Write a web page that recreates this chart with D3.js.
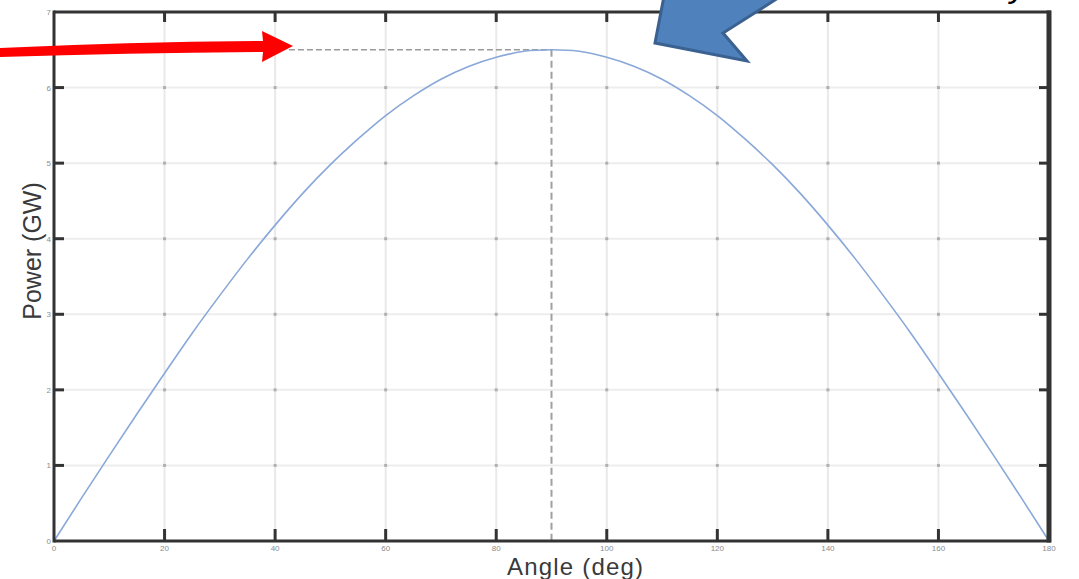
<!DOCTYPE html>
<html>
<head>
<meta charset="utf-8">
<script src="https://cdn.jsdelivr.net/npm/d3@7"></script>
<style>
  html, body { margin: 0; padding: 0; background: #fff; overflow: hidden; }
  svg { display: block; }
</style>
</head>
<body>
<div id="chart"></div>
<script>
// power-angle curve, values
const angleDeg = [0, 5, 10, 15, 20, 25, 30, 35, 40, 45, 50, 55, 60, 65, 70, 75, 80, 85, 90,
                  95, 100, 105, 110, 115, 120, 125, 130, 135, 140, 145, 150, 155, 160, 165, 170, 175, 180];
const powerGW = [0, 0.57, 1.13, 1.68, 2.22, 2.75, 3.25, 3.73, 4.18, 4.60, 4.98, 5.32, 5.63, 5.89, 6.11, 6.28, 6.40, 6.48, 6.50,
                 6.48, 6.40, 6.28, 6.11, 5.89, 5.63, 5.32, 4.98, 4.60, 4.18, 3.73, 3.25, 2.75, 2.22, 1.68, 1.13, 0.57, 0];
const xTicks = [0, 20, 40, 60, 80, 100, 120, 140, 160, 180];
const yTicks = [0, 1, 2, 3, 4, 5, 6, 7];
const peakAngle = 90;
const peakPower = 6.5;
const dashStartAngle = 42.5;

const W = 1079, H = 579;
const plot = {left: 54, right: 1049, top: 12, bottom: 541};

const svg = d3.select('#chart').append('svg')
    .attr('width', W)
    .attr('height', H);

const x = d3.scaleLinear().domain([0, 180]).range([plot.left, plot.right]);
const y = d3.scaleLinear().domain([0, 7]).range([plot.bottom, plot.top]);

// grid
svg.append('g').selectAll('line')
    .data(xTicks.slice(1, -1))
    .join('line')
    .attr('x1', d => x(d)).attr('x2', d => x(d))
    .attr('y1', plot.top).attr('y2', plot.bottom)
    .attr('stroke', '#e9e9e9')
    .attr('stroke-width', 2);

svg.append('g').selectAll('line')
    .data(yTicks.slice(1, -1))
    .join('line')
    .attr('x1', plot.left).attr('x2', plot.right)
    .attr('y1', d => y(d)).attr('y2', d => y(d))
    .attr('stroke', '#ededed')
    .attr('stroke-width', 2);

// little dots where the grid crosses
const crossings = [];
xTicks.slice(1, -1).forEach(a => yTicks.slice(1, -1).forEach(p => crossings.push([a, p])));
svg.append('g').selectAll('rect')
    .data(crossings)
    .join('rect')
    .attr('x', d => x(d[0]) - 1.5)
    .attr('y', d => y(d[1]) - 1.5)
    .attr('width', 3).attr('height', 3)
    .attr('fill', '#b0b0b0');

// dashed guide lines to the peak
svg.append('line')
    .attr('x1', x(dashStartAngle)).attr('x2', x(peakAngle))
    .attr('y1', y(peakPower)).attr('y2', y(peakPower))
    .attr('stroke', '#9a9a9a')
    .attr('stroke-width', 1.5)
    .attr('stroke-dasharray', '6,3');

svg.append('line')
    .attr('x1', x(peakAngle)).attr('x2', x(peakAngle))
    .attr('y1', y(peakPower)).attr('y2', plot.bottom)
    .attr('stroke', '#a0a0a0')
    .attr('stroke-width', 2)
    .attr('stroke-dasharray', '7,4');

// the curve
const line = d3.line()
    .x((d, i) => x(angleDeg[i]))
    .y(d => y(d))
    .curve(d3.curveNatural);

svg.append('path')
    .datum(powerGW)
    .attr('d', line)
    .attr('fill', 'none')
    .attr('stroke', '#8aa8d8')
    .attr('stroke-width', 1.6);

// frame + inward ticks
const frame = svg.append('g').attr('stroke', '#333');
frame.append('line').attr('x1', plot.left).attr('x2', plot.right + 2).attr('y1', plot.top).attr('y2', plot.top).attr('stroke-width', 3);
frame.append('line').attr('x1', plot.left).attr('x2', plot.right + 2).attr('y1', plot.bottom).attr('y2', plot.bottom).attr('stroke-width', 3);
frame.append('line').attr('x1', plot.left).attr('x2', plot.left).attr('y1', plot.top - 1.5).attr('y2', plot.bottom + 1.5).attr('stroke-width', 3);
frame.append('line').attr('x1', plot.right).attr('x2', plot.right).attr('y1', plot.top - 1.5).attr('y2', plot.bottom + 1.5).attr('stroke-width', 5);

const tickLen = 10;
frame.append('g').selectAll('line')
    .data(xTicks.slice(1, -1))
    .join('line')
    .attr('x1', d => x(d)).attr('x2', d => x(d))
    .attr('y1', plot.top).attr('y2', plot.top + tickLen)
    .attr('stroke-width', 3);
frame.append('g').selectAll('line')
    .data(xTicks.slice(1, -1))
    .join('line')
    .attr('x1', d => x(d)).attr('x2', d => x(d))
    .attr('y1', plot.bottom).attr('y2', plot.bottom - tickLen - 2)
    .attr('stroke-width', 3);
frame.append('g').selectAll('line')
    .data(yTicks.slice(1, -1))
    .join('line')
    .attr('x1', plot.left).attr('x2', plot.left + tickLen)
    .attr('y1', d => y(d)).attr('y2', d => y(d))
    .attr('stroke-width', 3);
frame.append('g').selectAll('line')
    .data(yTicks.slice(1, -1))
    .join('line')
    .attr('x1', plot.right).attr('x2', plot.right - tickLen)
    .attr('y1', d => y(d)).attr('y2', d => y(d))
    .attr('stroke-width', 3);

// tick labels (tiny, grey)
svg.append('g').selectAll('text')
    .data(xTicks)
    .join('text')
    .attr('x', d => x(d))
    .attr('y', plot.bottom + 10)
    .attr('text-anchor', 'middle')
    .attr('font-family', 'Liberation Sans, Arial, sans-serif')
    .attr('font-size', 8)
    .attr('fill', '#8c8c8c')
    .text(d => d);

svg.append('g').selectAll('text')
    .data(yTicks)
    .join('text')
    .attr('x', plot.left - 3)
    .attr('y', d => y(d) + 3)
    .attr('text-anchor', 'end')
    .attr('font-family', 'Liberation Sans, Arial, sans-serif')
    .attr('font-size', 8)
    .attr('fill', '#8c8c8c')
    .text(d => d);

// axis titles
svg.append('text')
    .attr('x', 575)
    .attr('y', 575)
    .attr('text-anchor', 'middle')
    .attr('font-family', 'Liberation Sans, Arial, sans-serif')
    .attr('font-size', 24)
    .attr('textLength', 136)
    .attr('fill', '#3a3a3a')
    .text('Angle (deg)');

svg.append('text')
    .attr('transform', 'translate(41,251) rotate(-90)')
    .attr('text-anchor', 'middle')
    .attr('font-family', 'Liberation Sans, Arial, sans-serif')
    .attr('font-size', 25)
    .attr('fill', '#3a3a3a')
    .text('Power (GW)');

// red arrow pointing at the peak level
svg.append('path')
    .attr('d', 'M0,48 Q130,42 263,41 L262,31 L293,46 L262,62 L263,52 Q130,53 0,57 Z')
    .attr('fill', '#ff0000');

// blue block arrow (shaft leaves the top of the picture)
svg.append('path')
    .attr('d', 'M655,43 L669,-30 L822,-30 L723,33 L747,61 Z')
    .attr('fill', '#4f81bd')
    .attr('stroke', '#3a6190')
    .attr('stroke-width', 3)
    .attr('stroke-linejoin', 'miter');

// cut-off caption text above the picture (only its descender shows)
svg.append('text')
    .attr('x', 1010)
    .attr('y', -3)
    .attr('font-family', 'Liberation Sans, Arial, sans-serif')
    .attr('font-style', 'italic')
    .attr('font-size', 34)
    .attr('fill', '#000')
    .text('y');
</script>
</body>
</html>
